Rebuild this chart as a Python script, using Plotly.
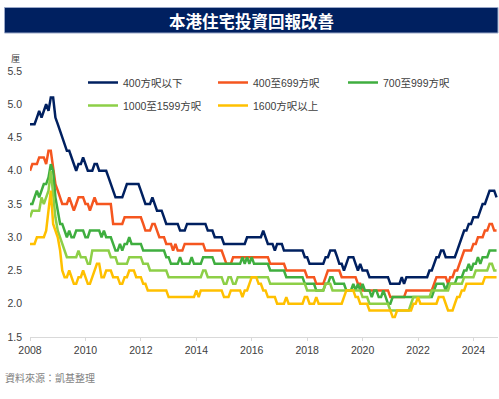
import plotly.graph_objects as go
import pandas as pd

# Monthly data, Jan 2008 - Nov 2024 (yield, %)
months = pd.date_range("2008-01-01", periods=203, freq="MS").strftime("%Y-%m-%d").tolist()

series_names = ["400方呎以下", "400至699方呎", "700至999方呎", "1000至1599方呎", "1600方呎以上"]

below_400 = [
    4.7, 4.7, 4.7, 4.8, 4.9, 4.8, 4.9, 5.0, 4.9, 5.1, 5.1, 4.8,
    4.7, 4.6, 4.5, 4.4, 4.3, 4.3, 4.2, 4.1, 4.0, 4.1, 4.1, 4.2,
    4.1, 4.0, 4.0, 4.0, 4.1, 4.1, 4.0, 4.0, 4.0, 4.0, 3.9, 3.8,
    3.7, 3.6, 3.6, 3.6, 3.6, 3.7, 3.8, 3.8, 3.8, 3.8, 3.8, 3.8,
    3.7, 3.6, 3.5, 3.5, 3.5, 3.6, 3.5, 3.4, 3.4, 3.4, 3.3, 3.2,
    3.2, 3.2, 3.2, 3.2, 3.2, 3.1, 3.1, 3.1, 3.2, 3.2, 3.2, 3.2,
    3.2, 3.2, 3.2, 3.2, 3.2, 3.1, 3.1, 3.1, 3.0, 3.0, 3.0, 3.0,
    2.9, 2.9, 2.9, 2.9, 2.9, 2.9, 2.9, 2.9, 2.9, 2.9, 3.0, 3.0,
    3.0, 3.0, 3.0, 3.0, 3.0, 3.1, 3.0, 2.9, 2.9, 2.9, 2.8, 2.9,
    2.9, 2.9, 2.8, 2.8, 2.8, 2.8, 2.8, 2.8, 2.8, 2.8, 2.8, 2.7,
    2.7, 2.6, 2.6, 2.6, 2.6, 2.6, 2.6, 2.6, 2.7, 2.7, 2.8, 2.8,
    2.8, 2.7, 2.6, 2.6, 2.5, 2.6, 2.7, 2.7, 2.7, 2.6, 2.5, 2.6,
    2.5, 2.5, 2.5, 2.4, 2.4, 2.4, 2.4, 2.4, 2.4, 2.4, 2.4, 2.4,
    2.3, 2.3, 2.3, 2.3, 2.3, 2.4, 2.3, 2.4, 2.4, 2.4, 2.4, 2.4,
    2.4, 2.4, 2.4, 2.4, 2.4, 2.5, 2.5, 2.6, 2.7, 2.7, 2.8, 2.8,
    2.7, 2.7, 2.7, 2.7, 2.7, 2.8, 2.9, 3.0, 3.1, 3.1, 3.2, 3.2,
    3.3, 3.3, 3.3, 3.4, 3.5, 3.5, 3.6, 3.7, 3.7, 3.7, 3.6,
]

s400_699 = [
    4.0, 4.1, 4.1, 4.1, 4.2, 4.2, 4.2, 4.1, 4.3, 4.3, 4.0, 3.8,
    3.7, 3.6, 3.5, 3.5, 3.5, 3.6, 3.5, 3.4, 3.5, 3.6, 3.6, 3.6,
    3.5, 3.5, 3.4, 3.5, 3.6, 3.5, 3.5, 3.5, 3.5, 3.5, 3.5, 3.5,
    3.2, 3.2, 3.2, 3.2, 3.2, 3.3, 3.3, 3.3, 3.3, 3.3, 3.3, 3.3,
    3.3, 3.2, 3.1, 3.1, 3.1, 3.2, 3.2, 3.1, 3.0, 3.0, 3.0, 2.9,
    2.9, 2.9, 2.8, 2.9, 2.8, 2.8, 2.8, 2.9, 2.9, 2.9, 2.9, 2.9,
    2.9, 2.9, 2.9, 2.9, 2.8, 2.8, 2.8, 2.8, 2.8, 2.8, 2.8, 2.8,
    2.7, 2.6, 2.6, 2.6, 2.7, 2.7, 2.7, 2.7, 2.7, 2.7, 2.7, 2.7,
    2.7, 2.7, 2.7, 2.7, 2.7, 2.7, 2.7, 2.7, 2.6, 2.6, 2.6, 2.6,
    2.6, 2.6, 2.6, 2.5, 2.5, 2.5, 2.5, 2.5, 2.5, 2.5, 2.5, 2.5,
    2.4, 2.4, 2.4, 2.4, 2.3, 2.3, 2.3, 2.3, 2.4, 2.5, 2.5, 2.5,
    2.5, 2.5, 2.5, 2.4, 2.4, 2.4, 2.4, 2.4, 2.4, 2.4, 2.3, 2.3,
    2.2, 2.2, 2.2, 2.2, 2.2, 2.2, 2.2, 2.2, 2.2, 2.2, 2.2, 2.2,
    2.1, 2.1, 2.1, 2.1, 2.1, 2.1, 2.1, 2.2, 2.2, 2.2, 2.2, 2.2,
    2.2, 2.2, 2.2, 2.2, 2.2, 2.2, 2.2, 2.3, 2.4, 2.4, 2.4, 2.4,
    2.4, 2.3, 2.4, 2.4, 2.5, 2.5, 2.6, 2.7, 2.8, 2.8, 2.8, 2.8,
    2.9, 2.9, 3.0, 3.0, 3.0, 3.1, 3.1, 3.2, 3.2, 3.1, 3.1,
]

s700_999 = [
    3.5, 3.5, 3.6, 3.7, 3.6, 3.7, 3.8, 3.8, 3.9, 4.1, 4.0, 3.6,
    3.4, 3.2, 3.2, 3.1, 3.0, 3.1, 3.0, 3.0, 3.1, 3.1, 3.1, 3.1,
    3.0, 3.0, 3.1, 3.1, 3.1, 3.1, 3.1, 3.0, 3.1, 3.0, 3.0, 3.0,
    2.9, 2.8, 2.8, 2.9, 2.8, 2.9, 2.9, 3.0, 2.9, 2.9, 2.9, 2.9,
    2.9, 2.8, 2.8, 2.8, 2.8, 2.8, 2.8, 2.8, 2.8, 2.8, 2.8, 2.7,
    2.7, 2.6, 2.6, 2.6, 2.6, 2.7, 2.6, 2.6, 2.6, 2.6, 2.7, 2.6,
    2.6, 2.6, 2.6, 2.7, 2.7, 2.7, 2.7, 2.7, 2.6, 2.6, 2.6, 2.6,
    2.6, 2.6, 2.6, 2.6, 2.6, 2.6, 2.6, 2.6, 2.7, 2.6, 2.7, 2.6,
    2.7, 2.6, 2.6, 2.6, 2.6, 2.6, 2.6, 2.6, 2.5, 2.5, 2.5, 2.5,
    2.5, 2.5, 2.5, 2.4, 2.4, 2.4, 2.4, 2.4, 2.4, 2.4, 2.4, 2.3,
    2.3, 2.3, 2.3, 2.3, 2.2, 2.2, 2.2, 2.2, 2.3, 2.3, 2.4, 2.4,
    2.3, 2.3, 2.3, 2.3, 2.3, 2.2, 2.2, 2.2, 2.3, 2.2, 2.3, 2.2,
    2.3, 2.2, 2.2, 2.2, 2.1, 2.2, 2.2, 2.1, 2.1, 2.2, 2.1, 2.0,
    2.0, 2.1, 2.1, 2.1, 2.1, 2.1, 2.1, 2.1, 2.1, 2.1, 2.1, 2.1,
    2.1, 2.1, 2.1, 2.1, 2.1, 2.1, 2.1, 2.2, 2.3, 2.3, 2.3, 2.3,
    2.2, 2.3, 2.3, 2.3, 2.3, 2.4, 2.4, 2.4, 2.5, 2.5, 2.6, 2.5,
    2.6, 2.6, 2.7, 2.6, 2.7, 2.7, 2.7, 2.8, 2.8, 2.8, 2.8,
]

s1000_1599 = [
    3.3, 3.4, 3.4, 3.4, 3.4, 3.6, 3.5, 3.6, 3.7, 4.0, 3.6, 3.3,
    3.1, 3.0, 2.9, 2.8, 2.7, 2.7, 2.7, 2.7, 2.7, 2.8, 2.7, 2.7,
    2.7, 2.6, 2.6, 2.8, 2.8, 2.8, 2.8, 2.8, 2.8, 2.8, 2.8, 2.7,
    2.7, 2.7, 2.6, 2.6, 2.6, 2.6, 2.6, 2.7, 2.7, 2.7, 2.7, 2.7,
    2.7, 2.6, 2.6, 2.6, 2.5, 2.5, 2.5, 2.5, 2.5, 2.5, 2.5, 2.5,
    2.4, 2.4, 2.4, 2.4, 2.4, 2.4, 2.4, 2.4, 2.4, 2.4, 2.4, 2.4,
    2.4, 2.4, 2.4, 2.5, 2.5, 2.4, 2.4, 2.4, 2.4, 2.4, 2.4, 2.4,
    2.3, 2.3, 2.4, 2.4, 2.3, 2.3, 2.4, 2.4, 2.4, 2.4, 2.4, 2.4,
    2.4, 2.4, 2.4, 2.4, 2.4, 2.4, 2.4, 2.4, 2.3, 2.3, 2.3, 2.3,
    2.3, 2.3, 2.3, 2.3, 2.3, 2.3, 2.3, 2.3, 2.3, 2.3, 2.3, 2.3,
    2.2, 2.2, 2.2, 2.2, 2.2, 2.2, 2.2, 2.2, 2.3, 2.3, 2.3, 2.2,
    2.2, 2.2, 2.2, 2.2, 2.2, 2.2, 2.2, 2.2, 2.2, 2.2, 2.2, 2.2,
    2.1, 2.1, 2.1, 2.0, 2.0, 2.0, 2.0, 2.0, 2.0, 2.0, 2.0, 2.0,
    1.9, 1.9, 1.9, 1.9, 1.9, 1.9, 1.9, 1.9, 1.9, 2.0, 2.1, 2.1,
    2.1, 2.1, 2.1, 2.1, 2.1, 2.1, 2.2, 2.2, 2.2, 2.2, 2.2, 2.2,
    2.2, 2.2, 2.3, 2.3, 2.3, 2.3, 2.3, 2.3, 2.4, 2.4, 2.4, 2.4,
    2.4, 2.5, 2.5, 2.5, 2.5, 2.5, 2.5, 2.6, 2.6, 2.5, 2.5,
]

above_1600 = [
    2.9, 2.9, 2.9, 3.0, 3.0, 3.0, 3.0, 3.1, 3.4, 3.7, 3.2, 3.1,
    3.0, 2.8, 2.5, 2.4, 2.4, 2.5, 2.4, 2.3, 2.3, 2.4, 2.4, 2.5,
    2.4, 2.3, 2.3, 2.4, 2.5, 2.6, 2.6, 2.4, 2.4, 2.5, 2.5, 2.5,
    2.4, 2.4, 2.4, 2.3, 2.3, 2.4, 2.4, 2.5, 2.5, 2.5, 2.4, 2.4,
    2.4, 2.3, 2.3, 2.2, 2.2, 2.2, 2.2, 2.2, 2.2, 2.2, 2.2, 2.2,
    2.1, 2.1, 2.1, 2.1, 2.1, 2.1, 2.1, 2.1, 2.1, 2.1, 2.1, 2.1,
    2.2, 2.1, 2.2, 2.2, 2.2, 2.2, 2.2, 2.2, 2.2, 2.2, 2.2, 2.2,
    2.1, 2.1, 2.1, 2.2, 2.2, 2.2, 2.2, 2.2, 2.1, 2.2, 2.2, 2.3,
    2.4, 2.4, 2.4, 2.3, 2.3, 2.2, 2.2, 2.1, 2.1, 2.1, 2.1, 2.0,
    2.0, 2.0, 2.0, 2.1, 2.0, 2.0, 2.0, 2.0, 2.0, 2.0, 2.0, 2.1,
    2.1, 2.0, 2.0, 2.0, 2.1, 2.0, 2.0, 2.0, 2.0, 2.0, 2.0, 2.0,
    2.0, 2.0, 2.0, 2.0, 2.1, 2.2, 2.2, 2.2, 2.2, 2.1, 2.1, 2.0,
    2.0, 2.0, 2.0, 1.9, 1.9, 1.9, 1.9, 1.9, 1.9, 1.9, 1.9, 1.9,
    1.9, 1.8, 1.8, 1.9, 1.9, 1.9, 1.9, 1.9, 1.9, 1.9, 2.0, 2.0,
    2.1, 2.0, 2.0, 2.0, 2.0, 2.0, 2.0, 2.0, 2.0, 2.1, 2.1, 2.1,
    2.0, 1.9, 1.9, 1.9, 2.0, 2.1, 2.1, 2.2, 2.2, 2.3, 2.3, 2.3,
    2.3, 2.3, 2.3, 2.3, 2.3, 2.4, 2.4, 2.4, 2.4, 2.4, 2.4,
]

colors = ["#002060", "#F5561F", "#3FAE3F", "#8DCF47", "#FFC000"]
legend_ids = ["legend", "legend", "legend", "legend2", "legend2"]
all_series = [below_400, s400_699, s700_999, s1000_1599, above_1600]

x_tick_years = [2008, 2010, 2012, 2014, 2016, 2018, 2020, 2022, 2024]
y_ticks = [1.5, 2.0, 2.5, 3.0, 3.5, 4.0, 4.5, 5.0, 5.5]

FONT = "Liberation Sans, Arial, Noto Sans CJK TC, sans-serif"
CJK = "Noto Sans CJK TC, Noto Sans CJK SC, sans-serif"

fig = go.Figure()
for name, vals, col, lg in zip(series_names, all_series, colors, legend_ids):
    fig.add_trace(go.Scatter(
        x=months, y=vals, name=name, mode="lines",
        line=dict(color=col, width=2.5), legend=lg,
    ))

# plot area: x 30..498, y 71..337 (px)
L, R, T, B = 30, 1, 71, 62
W, H = 499, 399
pw = W - L - R
ph = H - T - B

def px_x(px):
    return (px - L) / pw

def px_y(py):
    return (H - B - py) / ph

fig.update_layout(
    width=W, height=H,
    margin=dict(l=L, r=R, t=T, b=B, autoexpand=False),
    paper_bgcolor="white", plot_bgcolor="white",
    font=dict(family=FONT, size=10.5, color="#404040"),
    showlegend=True,
    legend=dict(
        orientation="h", x=px_x(83), xanchor="left", y=px_y(68), yanchor="top",
        entrywidth=85, entrywidthmode="pixels",
        font=dict(family=FONT, size=10.5, color="#404040"),
        bgcolor="rgba(0,0,0,0)", traceorder="normal",
    ),
    legend2=dict(
        orientation="h", x=px_x(83), xanchor="left", y=px_y(91), yanchor="top",
        entrywidth=85, entrywidthmode="pixels",
        font=dict(family=FONT, size=10.5, color="#404040"),
        bgcolor="rgba(0,0,0,0)", traceorder="normal",
    ),
    xaxis=dict(
        type="date",
        range=["2008-01-01", "2024-11-20"],
        tickvals=[f"{y}-01-01" for y in x_tick_years],
        ticktext=[str(y) for y in x_tick_years],
        showgrid=False, zeroline=False,
        showline=True, linecolor="#d9d9d9", linewidth=1,
        ticks="outside", ticklen=3, tickcolor="#d9d9d9",
        tickfont=dict(family=FONT, size=10.5, color="#404040"),
    ),
    yaxis=dict(
        range=[1.5, 5.5],
        tickvals=y_ticks,
        ticktext=[f"{v:.1f}" for v in y_ticks],
        showgrid=False, zeroline=False, showline=False, ticks="",
        ticklabelstandoff=7,
        tickfont=dict(family=FONT, size=10.5, color="#404040"),
    ),
)

# Title bar
fig.add_shape(
    type="rect", xref="paper", yref="paper",
    x0=px_x(4.5), x1=px_x(498), y0=px_y(33), y1=px_y(7.5),
    fillcolor="#002060", line=dict(color="#9AA8C8", width=1), layer="above",
)
fig.add_annotation(
    text="本港住宅投資回報改善", xref="paper", yref="paper",
    x=px_x(251.5), y=px_y(20.5), xanchor="center", yanchor="middle",
    showarrow=False, font=dict(family=CJK, size=16.5, color="white", weight="bold"),
)
fig.add_annotation(
    text="厘", xref="paper", yref="paper",
    x=px_x(15.5), y=px_y(59), xanchor="center", yanchor="middle",
    showarrow=False, font=dict(family=CJK, size=9, color="#404040"),
)
fig.add_annotation(
    text="資料來源：凱基整理", xref="paper", yref="paper",
    x=px_x(3), y=px_y(377), xanchor="left", yanchor="middle",
    showarrow=False, font=dict(family=CJK, size=10, color="#7f7f7f"),
)

fig.write_html(
    "out.html",
    config={"displayModeBar": False},
    post_script="document.body.style.margin='0';document.body.style.padding='0';",
)
